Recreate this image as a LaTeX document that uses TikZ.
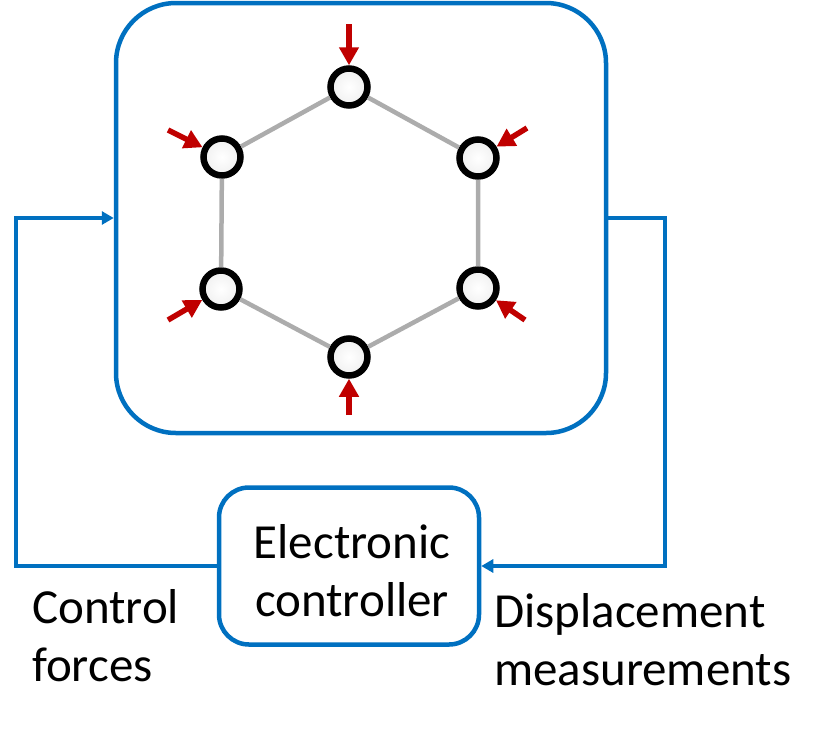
\documentclass[tikz,border=0pt]{standalone}
\usepackage{fontspec}
\setmainfont{Carlito}
\usetikzlibrary{arrows.meta}
\definecolor{boxblue}{HTML}{0070C0}
\definecolor{forcered}{HTML}{C00000}
\tikzset{
  mass/.style={circle, draw=black, line width=6.5pt, minimum size=37pt, inner sep=0pt,
    inner color=white, outer color=gray!12},
  link/.style={draw=gray!65, line width=4.5pt},
  force/.style={draw=forcered, line width=5.5pt, -{Triangle[length=18pt,width=19pt]}},
  feed/.style={draw=boxblue, line width=4.5pt, -{Triangle[length=12pt,width=13pt]}},
  label/.style={font=\fontsize{49}{58}\selectfont, inner sep=0pt, align=left}
}
\begin{document}
\begin{tikzpicture}[x=1pt,y=-1pt]
        \useasboundingbox (0,0) rectangle (825,729);

        % plant and controller
        \node[draw=boxblue, line width=4.5pt, rounded corners=60pt,
          minimum width=490pt, minimum height=430pt] (plant) at (361,218) {};
        \node[draw=boxblue, line width=4.5pt, rounded corners=30pt,
          minimum width=260pt, minimum height=157pt] (ctrl) at (349,566) {};
        \node[label, align=center] (ctrltxt) at (352,571) {Electronic\\controller};

        % hexagon of masses
        \node[mass] (top) at (349,87) {};
        \node[mass] (ur) at (478,158) {};
        \node[mass] (lr) at (478,288) {};
        \node[mass] (bot) at (349,357) {};
        \node[mass] (ll) at (221,289) {};
        \node[mass] (ul) at (222,157) {};
        \draw[link] (top) -- (ur) (ur) -- (lr) (lr) -- (bot)
          (bot) -- (ll) (ll) -- (ul) (ul) -- (top);

        % forces
        \coordinate (ftop) at (349,24);
        \coordinate (fur) at (527,128);
        \coordinate (flr) at (525,320);
        \coordinate (fbot) at (349,415);
        \coordinate (fll) at (168,320);
        \coordinate (ful) at (168,130);
        \draw[force] (ftop) -- (top);
        \draw[force] (fur) -- (ur);
        \draw[force] (flr) -- (lr);
        \draw[force] (fbot) -- (bot);
        \draw[force] (fll) -- (ll);
        \draw[force] (ful) -- (ul);

        % feedback loop
        \coordinate (lft) at (16,0);
        \coordinate (rgt) at (665,0);
        \draw[feed] (ctrl.west) -- (ctrl.west -| lft) |- (plant.west);
        \draw[feed] (plant.east) -| (rgt |- ctrl.east) -- (ctrl.east);

        \node[label, anchor=base west] (cf) at (32,681) {Control\\forces};
        \node[label, anchor=base west] (dm) at (494,685) {Displacement\\measurements};

    \end{tikzpicture}
\end{document}
